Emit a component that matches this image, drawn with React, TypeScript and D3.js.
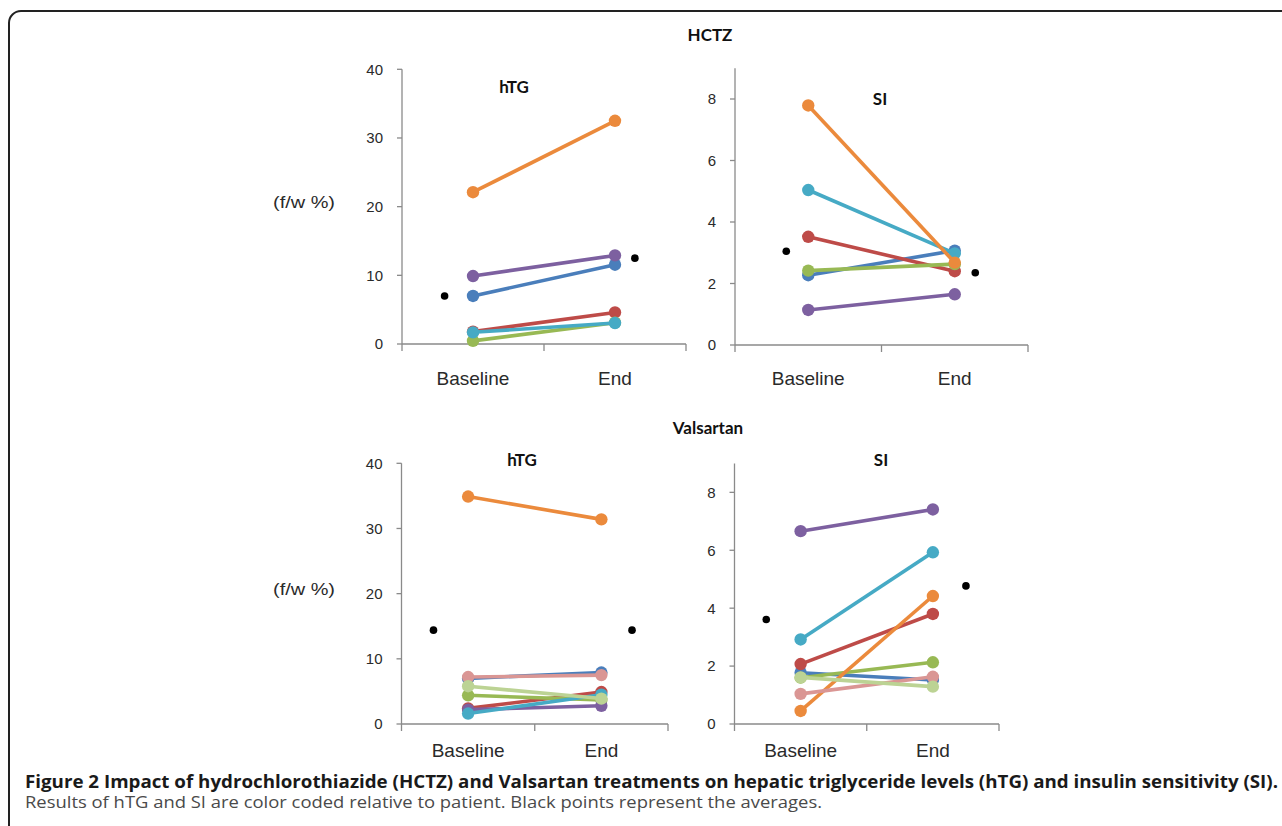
import React from 'react';
import * as d3 from 'd3';

// ---------- data ----------
const categories = ['Baseline', 'End'];
const categoryPositions = [0.5, 1.5];

// patient colours (series order: blue, red, green, purple, teal, orange, pink, light green)
const hctzColors = ['#4A7EBB', '#BE4B48', '#98B954', '#7D60A0', '#46AAC5', '#EB8A3C'];
const valsartanColors = ['#4A7EBB', '#BE4B48', '#98B954', '#7D60A0', '#46AAC5', '#EB8A3C', '#DA9694', '#BCD394'];

const hctzHtgBaseline = [7.0, 1.8, 0.45, 9.9, 1.7, 22.1];
const hctzHtgEnd = [11.55, 4.6, 3.1, 12.9, 3.05, 32.5];
const hctzHtgMean = [7.0, 12.5];
const hctzHtgMeanPos = [0.3, 1.64];

const hctzSiBaseline = [2.27, 3.52, 2.42, 1.14, 5.04, 7.79];
const hctzSiEnd = [3.07, 2.4, 2.63, 1.65, 2.98, 2.68];
const hctzSiMean = [3.05, 2.35];
const hctzSiMeanPos = [0.35, 1.64];

const valHtgBaseline = [7.0, 2.4, 4.4, 2.2, 1.6, 34.9, 7.2, 5.8];
const valHtgEnd = [7.9, 4.9, 3.7, 2.8, 4.5, 31.4, 7.5, 3.9];
const valHtgMean = [14.4, 14.4];
const valHtgMeanPos = [0.24, 1.73];

const valSiBaseline = [1.77, 2.07, 1.6, 6.66, 2.92, 0.45, 1.04, 1.61];
const valSiEnd = [1.52, 3.8, 2.13, 7.41, 5.93, 4.42, 1.63, 1.29];
const valSiMean = [3.61, 4.77];
const valSiMeanPos = [0.24, 1.75];

const htgTicks = [0, 10, 20, 30, 40];
const siTicks = [0, 2, 4, 6, 8];

const captionBold = 'Figure 2 Impact of hydrochlorothiazide (HCTZ) and Valsartan treatments on hepatic triglyceride levels (hTG) and insulin sensitivity (SI).';
const captionNormal = 'Results of hTG and SI are color coded relative to patient. Black points represent the averages.';

// ---------- component ----------
type PanelProps = {
  x0: number; x1: number; yBottom: number; yTop: number; yMax: number;
  ticks: number[]; title: string; titleX: number; titleY: number; catY: number;
  base: number[]; end: number[]; mean: number[]; meanPos: number[]; colors: string[];
};

const axisColor = '#8a8a8a';
const textColor = '#2a2a2a';
const sans = '"Liberation Sans", Arial, sans-serif';
const titleFont = 'Lato, "Open Sans", sans-serif';

function Panel(p: PanelProps) {
  const x = d3.scaleLinear().domain([0, 2]).range([p.x0, p.x1]);
  const y = d3.scaleLinear().domain([0, p.yMax]).range([p.yBottom, p.yTop]);
  const line = d3.line<[number, number]>().x(d => x(d[0])).y(d => y(d[1]));
  return (
    <g>
      {/* y axis */}
      <line x1={x(0)} x2={x(0)} y1={y(p.yMax)} y2={y(0) + 7} stroke={axisColor} strokeWidth={1.3} />
      {p.ticks.map(t => (
        <g key={t}>
          <line x1={x(0) - 5} x2={x(0)} y1={y(t)} y2={y(t)} stroke={axisColor} strokeWidth={1.3} />
          <text x={x(0) - 19} y={y(t)} dy="0.36em" textAnchor="end" fontSize={15} fontFamily={sans} fill={textColor}>{t}</text>
        </g>
      ))}
      {/* x axis */}
      <line x1={x(0)} x2={x(2)} y1={y(0)} y2={y(0)} stroke={axisColor} strokeWidth={1.3} />
      {[1, 2].map(t => (
        <line key={t} x1={x(t)} x2={x(t)} y1={y(0)} y2={y(0) + 7} stroke={axisColor} strokeWidth={1.3} />
      ))}
      {categories.map((c, i) => (
        <text key={c} x={x(categoryPositions[i])} y={p.catY} textAnchor="middle" fontSize={19} fontFamily={sans} fill={textColor}>{c}</text>
      ))}
      {/* title */}
      <text x={p.titleX} y={p.titleY} textAnchor="middle" fontSize={17} fontWeight={700} fontFamily={titleFont} fill="#111">{p.title}</text>
      {/* series */}
      {p.base.map((b, i) => {
        const pts: [number, number][] = [[categoryPositions[0], b], [categoryPositions[1], p.end[i]]];
        return (
          <g key={i}>
            <path d={line(pts) || ''} stroke={p.colors[i]} strokeWidth={3.6} fill="none" />
            {pts.map((pt, j) => (
              <circle key={j} cx={x(pt[0])} cy={y(pt[1])} r={6.2} fill={p.colors[i]} />
            ))}
          </g>
        );
      })}
      {/* averages */}
      {p.mean.map((m, i) => (
        <circle key={i} cx={x(p.meanPos[i])} cy={y(m)} r={3.8} fill="#000" />
      ))}
    </g>
  );
}

export default function App() {
  return (
    <svg width={1282} height={826} style={{ position: 'absolute', left: 0, top: 0, background: '#fff' }}>
      <rect x={0} y={0} width={1282} height={826} fill="#fff" />
      <path d="M9,840 V23 A12,12 0 0 1 21,11 H1300" fill="none" stroke="#222" strokeWidth={2} />

      <text x={710} y={41} textAnchor="middle" fontSize={17} fontWeight={700} fontFamily={titleFont} fill="#111">HCTZ</text>
      <text x={708} y={434} textAnchor="middle" fontSize={17} fontWeight={700} fontFamily={titleFont} fill="#111">Valsartan</text>

      <text x={273} y={208} fontSize={16} fontFamily={sans} fill={textColor} textLength={62} lengthAdjust="spacingAndGlyphs">(f/w %)</text>
      <text x={273} y={595} fontSize={16} fontFamily={sans} fill={textColor} textLength={62} lengthAdjust="spacingAndGlyphs">(f/w %)</text>

      <Panel x0={402} x1={686} yBottom={344} yTop={69.3} yMax={40} ticks={htgTicks} title="hTG" titleX={514} titleY={93}
        catY={385} base={hctzHtgBaseline} end={hctzHtgEnd} mean={hctzHtgMean} meanPos={hctzHtgMeanPos} colors={hctzColors} />
      <Panel x0={735} x1={1028} yBottom={345} yTop={68.25} yMax={9} ticks={siTicks} title="SI" titleX={880} titleY={105}
        catY={385} base={hctzSiBaseline} end={hctzSiEnd} mean={hctzSiMean} meanPos={hctzSiMeanPos} colors={hctzColors} />
      <Panel x0={401.5} x1={668} yBottom={724} yTop={463.3} yMax={40} ticks={htgTicks} title="hTG" titleX={522} titleY={466}
        catY={757} base={valHtgBaseline} end={valHtgEnd} mean={valHtgMean} meanPos={valHtgMeanPos} colors={valsartanColors} />
      <Panel x0={734.5} x1={999} yBottom={724} yTop={463.4} yMax={9} ticks={siTicks} title="SI" titleX={881} titleY={466}
        catY={757} base={valSiBaseline} end={valSiEnd} mean={valSiMean} meanPos={valSiMeanPos} colors={valsartanColors} />

      <text x={25} y={787.5} fontSize={17} fontWeight={700} fontFamily='"Open Sans", "Noto Sans", sans-serif' fill="#1a1a1a"
        textLength={1253} lengthAdjust="spacingAndGlyphs">{captionBold}</text>
      <text x={25} y={807.5} fontSize={15.5} fontFamily='"Open Sans", "Noto Sans", sans-serif' fill="#4a4a4a"
        textLength={797} lengthAdjust="spacingAndGlyphs">{captionNormal}</text>
    </svg>
  );
}
